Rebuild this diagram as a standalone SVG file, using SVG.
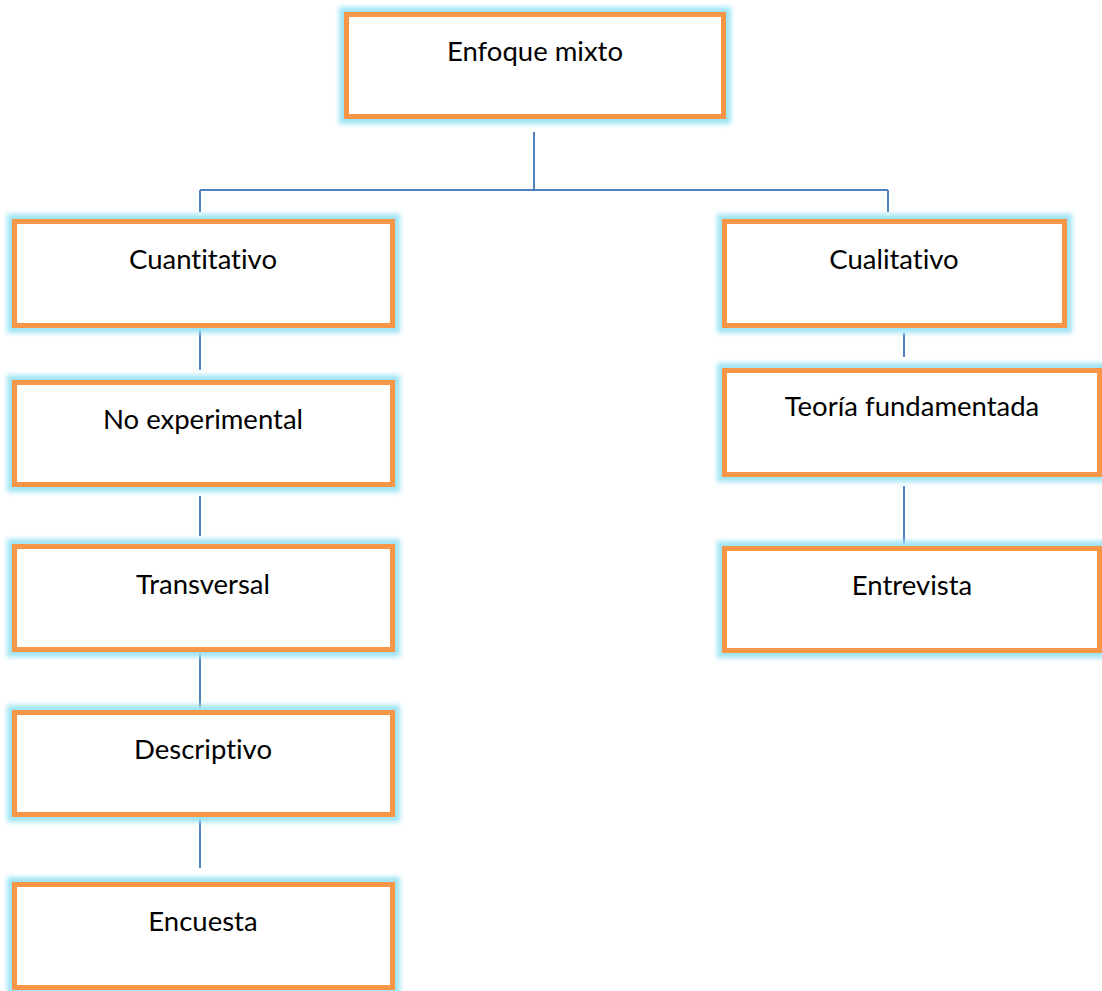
<svg xmlns="http://www.w3.org/2000/svg" width="1102" height="991" viewBox="0 0 1102 991">
<defs>
<filter id="glow" x="-10%" y="-20%" width="120%" height="140%">
<feGaussianBlur stdDeviation="2.5"/>
</filter>
<style>
.g{fill:none;stroke:#9ee3f5;stroke-width:15;filter:url(#glow)}
.b{fill:#ffffff;stroke:#f79646;stroke-width:5}
.t{font-family:Lato,"Open Sans",sans-serif;font-size:27.5px;fill:#000000;text-anchor:middle;font-variant-ligatures:none;font-feature-settings:"liga" 0}
.c{stroke:#4f81bd;stroke-width:2;fill:none}
</style>
</defs>
<rect width="1102" height="991" fill="#ffffff"/>
<g id="connectors">
<line class="c" x1="534" y1="132" x2="534" y2="190"/>
<line class="c" x1="200" y1="190" x2="888" y2="190"/>
<line class="c" x1="200" y1="190" x2="200" y2="212"/>
<line class="c" x1="888" y1="190" x2="888" y2="212"/>
<line class="c" x1="200" y1="326" x2="200" y2="370"/>
<line class="c" x1="200" y1="496" x2="200" y2="536"/>
<line class="c" x1="200" y1="652" x2="200" y2="709"/>
<line class="c" x1="200" y1="816" x2="200" y2="868"/>
<line class="c" x1="904" y1="333" x2="904" y2="357"/>
<line class="c" x1="904" y1="486" x2="904" y2="545"/>
</g>
<g id="enfoque-mixto">
<rect class="g" x="346.5" y="14.5" width="377" height="102"/>
<rect class="b" x="346.5" y="14.5" width="377" height="102"/>
<text class="t" x="535" y="61">Enfoque mixto</text>
</g>
<g id="cuantitativo">
<rect class="g" x="14.5" y="221.5" width="378" height="104"/>
<rect class="b" x="14.5" y="221.5" width="378" height="104"/>
<text class="t" x="203" y="269">Cuantitativo</text>
</g>
<g id="no-experimental">
<rect class="g" x="14.5" y="382.5" width="378" height="102"/>
<rect class="b" x="14.5" y="382.5" width="378" height="102"/>
<text class="t" x="203" y="429">No experimental</text>
</g>
<g id="transversal">
<rect class="g" x="14.5" y="546.5" width="378" height="103"/>
<rect class="b" x="14.5" y="546.5" width="378" height="103"/>
<text class="t" x="203" y="594">Transversal</text>
</g>
<g id="descriptivo">
<rect class="g" x="14.5" y="712.5" width="378" height="102"/>
<rect class="b" x="14.5" y="712.5" width="378" height="102"/>
<text class="t" x="203" y="759">Descriptivo</text>
</g>
<g id="encuesta">
<rect class="g" x="14.5" y="884.5" width="378" height="103"/>
<rect class="b" x="14.5" y="884.5" width="378" height="103"/>
<text class="t" x="203" y="931">Encuesta</text>
</g>
<g id="cualitativo">
<rect class="g" x="724.5" y="221.5" width="340" height="104"/>
<rect class="b" x="724.5" y="221.5" width="340" height="104"/>
<text class="t" x="894" y="269">Cualitativo</text>
</g>
<g id="teoria-fundamentada">
<rect class="g" x="724.5" y="370.5" width="375" height="104"/>
<rect class="b" x="724.5" y="370.5" width="375" height="104"/>
<text class="t" x="912" y="416">Teoría fundamentada</text>
</g>
<g id="entrevista">
<rect class="g" x="724.5" y="548.5" width="375" height="102"/>
<rect class="b" x="724.5" y="548.5" width="375" height="102"/>
<text class="t" x="912" y="595">Entrevista</text>
</g>
</svg>
